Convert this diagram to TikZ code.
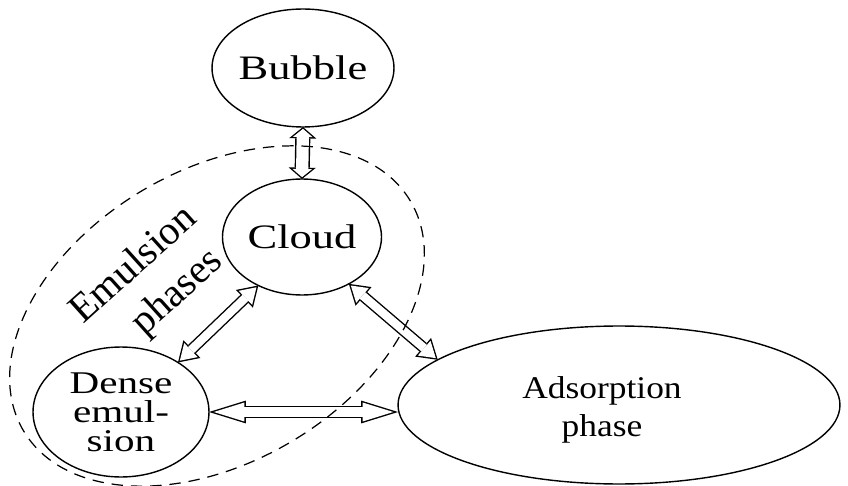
\documentclass[tikz,border=0pt]{standalone}
\usepackage{fontspec}
\setmainfont{Liberation Serif}[FakeStretch=1.3]
\newfontfamily\tiltfont{Liberation Serif}
\newfontfamily\adsfont{Liberation Serif}[FakeStretch=1.12]
\usetikzlibrary{shapes.geometric,arrows.meta}

% hollow two-way arrow: {shaft}{head length}{head width}{inner head length}{inner head width}
\tikzset{
  phase/.style={draw, ellipse, line width=0.8pt, inner sep=0pt, outer sep=0pt},
  twoway/.style n args={5}{
    draw=white, line width=#1-1.6pt,
    {Triangle[length=#4,width=#5,line width=0pt]}-{Triangle[length=#4,width=#5,line width=0pt]},
    shorten <=#2-0.8pt-#4, shorten >=#2-0.8pt-#4,
    preaction={draw=black, line width=#1, shorten <=0pt, shorten >=0pt,
      {Triangle[length=#2,width=#3,line width=0pt]}-{Triangle[length=#2,width=#3,line width=0pt]}}
  },
  vertarrow/.style={twoway={8.6pt}{6.5pt}{15.5pt}{4.66pt}{11.1pt}},
  diagarrow/.style={twoway={6.4pt}{11pt}{14pt}{8.71pt}{11.08pt}},
  horarrow/.style={twoway={7pt}{21pt}{13pt}{17.5pt}{10.83pt}}
}

\begin{document}
\begin{tikzpicture}[x=0.02cm,y=0.02cm]
	\useasboundingbox (0,0) rectangle (848,-486);
	\node[phase, minimum width=3.2cm, minimum height=2.36cm] (bubble) at (303,-68) {\fontsize{19.5}{22}\selectfont Bubble};
	\node[phase, minimum width=3.18cm, minimum height=2.32cm] (cloud) at (302,-237) {\fontsize{19.5}{22}\selectfont Cloud};
	\node[phase, minimum width=3.52cm, minimum height=2.6cm, align=center, font=\fontsize{18}{16.5}\selectfont] (dense) at (121,-412) {Dense\\emul-\\sion};
	\node[phase, minimum width=8.84cm, minimum height=3.16cm,
		label={[align=center, xshift=-0.34cm, yshift=-0.1cm, font=\adsfont\fontsize{18}{21.5}\selectfont]center:Adsorption\\phase}] (ads) at (619,-405) {};
	\node[rotate=42, align=center, font=\tiltfont\fontsize{23}{28}\selectfont] (emul) at (151,-284) {Emulsion\\\hspace*{0.55cm}phases};
	% connectors
	\draw[vertarrow] (bubble.south) -- (cloud.north);
	\draw[diagarrow] (cloud.228) -- (dense.41);
	\draw[diagarrow] (cloud.315) -- (ads.166);
	\draw[horarrow] (dense.east) -- (dense.east -| ads.west);
	% emulsion region
	\draw[line width=0.7pt, dash pattern=on 6.5pt off 4.5pt] (217,-316) circle [x radius=225, y radius=146, rotate=30.7];
\end{tikzpicture}
\end{document}
